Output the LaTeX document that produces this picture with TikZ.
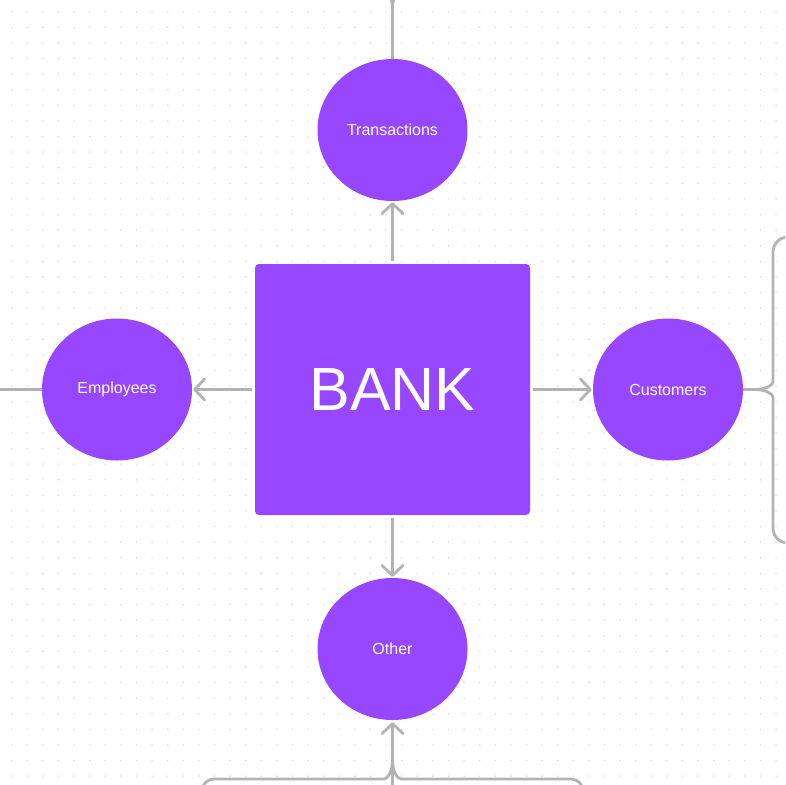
\documentclass[tikz,border=0pt]{standalone}
\usepackage{fontspec}
\setmainfont{Liberation Sans}
\usetikzlibrary{shapes.geometric,arrows.meta}
\definecolor{purp}{HTML}{9747FF}
\definecolor{lineg}{HTML}{B3B3B3}
\definecolor{dotg}{HTML}{DCDCDC}
\begin{document}
\begin{tikzpicture}[x=1pt,y=-1pt,
  bubble/.style={ellipse, fill=purp, minimum width=150pt, minimum height=142pt, inner sep=0pt, text=white, font=\fontsize{16}{18}\selectfont},
  box/.style={rectangle, rounded corners=4pt, fill=purp, minimum width=275pt, minimum height=251pt, inner sep=0pt, text=white, font=\fontsize{61}{70}\selectfont},
  conn/.style={draw=lineg, line width=2.8pt},
  arr/.style={conn, -{Straight Barb[length=10pt,width=21pt,line cap=round,line join=round]}},
  dot/.style={fill=dotg}]
\useasboundingbox (0,0) rectangle (785,785);
\clip (0,0) rectangle (785,785);
\fill[white] (0,0) rectangle (785,785);
% dot grid
\foreach \i in {0,...,49}{
  \foreach \j in {0,...,49}{
    \fill[dot] ({11.7+15.6*\i},{11.7+15.6*\j}) circle (0.8pt);
  }
}
% nodes
\node[box] (bank) at (392.5,389.5) {BANK};
\node[bubble] (trans) at (392.5,130) {Transactions};
\node[bubble] (emp) at (117,389.5) {Employees};
\node[bubble] (cust) at (668,389.5) {Customers};
\node[bubble] (other) at (392.5,649) {Other};
% free ends
\coordinate (topend) at (392.5,-30);
\coordinate (topj) at (392.5,9);
\coordinate (leftend) at (-5,389.5);
\coordinate (rj) at (755,389.5);
\coordinate (botend) at (392.5,800);
\coordinate (bj) at (392.5,759);
% arrows from bank
\draw[arr, shorten <=3pt, shorten >=1pt] (bank.north) -- (trans.south);
\draw[arr, shorten <=3pt, shorten >=1pt] (bank.west) -- (emp.east);
\draw[arr, shorten <=3pt, shorten >=1pt] (bank.east) -- (cust.west);
\draw[arr, shorten <=3pt, shorten >=1pt] (bank.south) -- (other.north);
% outer connectors
\draw[conn] (trans.north) -- (topend);
\draw[conn] (topj) .. controls (392.5,-5) and (387,-11) .. (372,-11) -- (200,-11);
\draw[conn] (topj) .. controls (392.5,-5) and (398,-11) .. (413,-11) -- (585,-11);
\draw[conn] (emp.west) -- (leftend);
% right brace
\draw[conn] (cust.east) -- (rj);
\draw[conn, rounded corners=15pt] (rj) .. controls (769,389.5) and (773,383) .. (773,367) -- (773,237) -- (800,237);
\draw[conn, rounded corners=15pt] (rj) .. controls (769,389.5) and (773,396) .. (773,412) -- (773,543) -- (800,543);
% bottom brace
\draw[arr, shorten >=2pt] (botend) -- (other.south);
\draw[conn, rounded corners=12pt] (bj) .. controls (392.5,773) and (387,779) .. (372,779) -- (202,779) -- (202,800);
\draw[conn, rounded corners=12pt] (bj) .. controls (392.5,773) and (398,779) .. (413,779) -- (583,779) -- (583,800);
\end{tikzpicture}
\end{document}
